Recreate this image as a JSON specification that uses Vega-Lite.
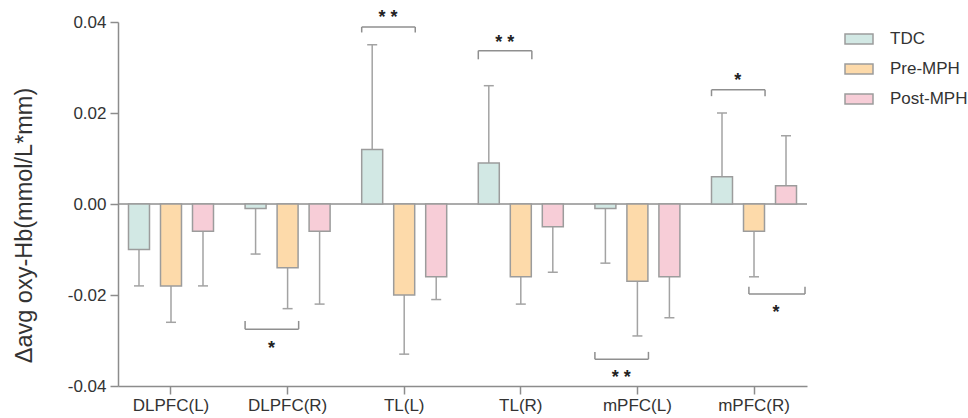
{
  "$schema": "https://vega.github.io/schema/vega-lite/v6.json",
  "width": 689,
  "height": 364,
  "autosize": {"type": "none"},
  "padding": {"left": 118, "top": 22, "right": 161, "bottom": 32},
  "background": "white",
  "config": {
    "view": {"stroke": null},
    "font": "Liberation Sans",
    "axis": {"grid": false, "domainColor": "#8c8c8c", "domainWidth": 1.5, "tickColor": "#8c8c8c", "tickWidth": 1.5, "tickSize": 8, "labelColor": "#333333", "labelFontSize": 17, "labelFont": "Liberation Sans", "titleFont": "Liberation Sans"}
  },
  "datasets": {
    "bars": [
      {"region": "DLPFC(L)", "group": "TDC", "mean": -0.010, "errorEnd": -0.018},
      {"region": "DLPFC(L)", "group": "Pre-MPH", "mean": -0.018, "errorEnd": -0.026},
      {"region": "DLPFC(L)", "group": "Post-MPH", "mean": -0.006, "errorEnd": -0.018},
      {"region": "DLPFC(R)", "group": "TDC", "mean": -0.001, "errorEnd": -0.011},
      {"region": "DLPFC(R)", "group": "Pre-MPH", "mean": -0.014, "errorEnd": -0.023},
      {"region": "DLPFC(R)", "group": "Post-MPH", "mean": -0.006, "errorEnd": -0.022},
      {"region": "TL(L)", "group": "TDC", "mean": 0.012, "errorEnd": 0.035},
      {"region": "TL(L)", "group": "Pre-MPH", "mean": -0.020, "errorEnd": -0.033},
      {"region": "TL(L)", "group": "Post-MPH", "mean": -0.016, "errorEnd": -0.021},
      {"region": "TL(R)", "group": "TDC", "mean": 0.009, "errorEnd": 0.026},
      {"region": "TL(R)", "group": "Pre-MPH", "mean": -0.016, "errorEnd": -0.022},
      {"region": "TL(R)", "group": "Post-MPH", "mean": -0.005, "errorEnd": -0.015},
      {"region": "mPFC(L)", "group": "TDC", "mean": -0.001, "errorEnd": -0.013},
      {"region": "mPFC(L)", "group": "Pre-MPH", "mean": -0.017, "errorEnd": -0.029},
      {"region": "mPFC(L)", "group": "Post-MPH", "mean": -0.016, "errorEnd": -0.025},
      {"region": "mPFC(R)", "group": "TDC", "mean": 0.006, "errorEnd": 0.020},
      {"region": "mPFC(R)", "group": "Pre-MPH", "mean": -0.006, "errorEnd": -0.016},
      {"region": "mPFC(R)", "group": "Post-MPH", "mean": 0.004, "errorEnd": 0.015}
    ],
    "brackets": [
      {"region": "DLPFC(R)", "pair": "TDC vs Pre-MPH", "line": -0.0275, "tip": -0.0257, "label": "*", "labelY": -0.0308},
      {"region": "TL(L)", "pair": "TDC vs Pre-MPH", "line": 0.0389, "tip": 0.0377, "label": "* *", "labelY": 0.0420},
      {"region": "TL(R)", "pair": "TDC vs Pre-MPH", "line": 0.0337, "tip": 0.0318, "label": "* *", "labelY": 0.0365},
      {"region": "mPFC(L)", "pair": "TDC vs Pre-MPH", "line": -0.0341, "tip": -0.0325, "label": "* *", "labelY": -0.0371},
      {"region": "mPFC(R)", "pair": "TDC vs Pre-MPH", "line": 0.0251, "tip": 0.0237, "label": "*", "labelY": 0.0281},
      {"region": "mPFC(R)", "pair": "Pre-MPH vs Post-MPH", "line": -0.0198, "tip": -0.0182, "label": "*", "labelY": -0.0229}
    ],
    "zero": [{"v": 0}]
  },
  "layer": [
    {
      "data": {"name": "bars"},
      "mark": {"type": "bar", "stroke": "#9c9c9c", "strokeWidth": 1.5, "opacity": 0},
      "encoding": {
        "x": {
          "field": "region", "type": "nominal",
          "scale": {"domain": ["DLPFC(L)", "DLPFC(R)", "TL(L)", "TL(R)", "mPFC(L)", "mPFC(R)"], "paddingInner": 0.271, "paddingOuter": 0.09},
          "axis": {"title": null, "labelAngle": 0, "labelPadding": 3}
        },
        "xOffset": {
          "field": "group", "type": "nominal",
          "scale": {"domain": ["TDC", "Pre-MPH", "Post-MPH"], "paddingInner": 0.344, "paddingOuter": 0}
        },
        "y": {
          "field": "mean", "type": "quantitative",
          "scale": {"domain": [-0.04, 0.04], "nice": false, "zero": false},
          "axis": {
            "values": [-0.04, -0.02, 0, 0.02, 0.04],
            "labelExpr": "replace(format(datum.value, '.2f'), '\u2212', '-')",
            "labelPadding": 4,
            "title": "Δavg oxy-Hb(mmol/L*mm)",
            "titleFontSize": 23.5,
            "titleFontWeight": "normal",
            "titleColor": "#333333",
            "titleX": -94,
            "titleY": 203,
            "titleAngle": 270,
            "titleAlign": "center",
            "titleBaseline": "middle"
          }
        }
      }
    },
    {
      "data": {"name": "zero"},
      "mark": {"type": "rule", "color": "#8f8f8f", "strokeWidth": 1.5},
      "encoding": {"y": {"field": "v", "type": "quantitative", "title": "Δavg oxy-Hb(mmol/L*mm)"}}
    },
    {
      "data": {"name": "bars"},
      "mark": {"type": "rule", "color": "#a3a3a3", "strokeWidth": 1.5},
      "encoding": {
        "x": {"field": "region", "type": "nominal", "title": null},
        "xOffset": {"field": "group", "type": "nominal"},
        "y": {"field": "mean", "type": "quantitative", "title": "Δavg oxy-Hb(mmol/L*mm)"},
        "y2": {"field": "errorEnd"}
      }
    },
    {
      "data": {"name": "bars"},
      "mark": {"type": "tick", "orient": "horizontal", "size": 10, "thickness": 1.5, "color": "#a3a3a3", "opacity": 1},
      "encoding": {
        "x": {"field": "region", "type": "nominal", "title": null},
        "xOffset": {"field": "group", "type": "nominal"},
        "y": {"field": "errorEnd", "type": "quantitative", "title": "Δavg oxy-Hb(mmol/L*mm)"}
      }
    },
    {
      "data": {"name": "bars"},
      "mark": {"type": "bar", "stroke": "#9c9c9c", "strokeWidth": 1.5},
      "encoding": {
        "x": {"field": "region", "type": "nominal", "title": null},
        "xOffset": {"field": "group", "type": "nominal"},
        "y": {"field": "mean", "type": "quantitative", "title": "Δavg oxy-Hb(mmol/L*mm)"},
        "fill": {
          "field": "group", "type": "nominal",
          "scale": {"domain": ["TDC", "Pre-MPH", "Post-MPH"], "range": ["#d2e8e4", "#fddaaa", "#f7cdd7"]},
          "legend": {
            "title": null,
            "orient": "none",
            "legendX": 726,
            "legendY": 2,
            "padding": 0,
            "symbolType": "M-1,-0.36H1V0.36H-1Z",
            "symbolSize": 784,
            "symbolStrokeColor": "#9c9c9c",
            "symbolStrokeWidth": 1.5,
            "symbolOpacity": 1,
            "labelFontSize": 17,
            "labelColor": "#333333",
            "labelOffset": 16,
            "rowPadding": 6
          }
        }
      }
    },
    {
      "data": {"name": "brackets"},
      "transform": [{"filter": "datum.pair === 'TDC vs Pre-MPH'"}],
      "mark": {"type": "rule", "color": "#8f8f8f", "strokeWidth": 1.5},
      "encoding": {
        "x": {"field": "region", "type": "nominal", "bandPosition": 0, "title": null},
        "x2": {"field": "region", "bandPosition": 0.63},
        "y": {"field": "line", "type": "quantitative", "title": "Δavg oxy-Hb(mmol/L*mm)"}
      }
    },
    {
      "data": {"name": "brackets"},
      "transform": [{"filter": "datum.pair === 'TDC vs Pre-MPH'"}],
      "mark": {"type": "rule", "color": "#8f8f8f", "strokeWidth": 1.5},
      "encoding": {
        "x": {"field": "region", "type": "nominal", "bandPosition": 0, "title": null},
        "y": {"field": "line", "type": "quantitative", "title": "Δavg oxy-Hb(mmol/L*mm)"},
        "y2": {"field": "tip"}
      }
    },
    {
      "data": {"name": "brackets"},
      "transform": [{"filter": "datum.pair === 'TDC vs Pre-MPH'"}],
      "mark": {"type": "rule", "color": "#8f8f8f", "strokeWidth": 1.5},
      "encoding": {
        "x": {"field": "region", "type": "nominal", "bandPosition": 0.63, "title": null},
        "y": {"field": "line", "type": "quantitative", "title": "Δavg oxy-Hb(mmol/L*mm)"},
        "y2": {"field": "tip"}
      }
    },
    {
      "data": {"name": "brackets"},
      "transform": [{"filter": "datum.pair === 'TDC vs Pre-MPH'"}],
      "mark": {"type": "text", "fontSize": 18, "fontWeight": "bold", "color": "#222222", "baseline": "alphabetic", "dy": 10},
      "encoding": {
        "x": {"field": "region", "type": "nominal", "bandPosition": 0.31, "title": null},
        "y": {"field": "labelY", "type": "quantitative", "title": "Δavg oxy-Hb(mmol/L*mm)"},
        "text": {"field": "label"}
      }
    },
    {
      "data": {"name": "brackets"},
      "transform": [{"filter": "datum.pair === 'Pre-MPH vs Post-MPH'"}],
      "mark": {"type": "rule", "color": "#8f8f8f", "strokeWidth": 1.5},
      "encoding": {
        "x": {"field": "region", "type": "nominal", "bandPosition": 0.44, "title": null},
        "x2": {"field": "region", "bandPosition": 1.1},
        "y": {"field": "line", "type": "quantitative", "title": "Δavg oxy-Hb(mmol/L*mm)"}
      }
    },
    {
      "data": {"name": "brackets"},
      "transform": [{"filter": "datum.pair === 'Pre-MPH vs Post-MPH'"}],
      "mark": {"type": "rule", "color": "#8f8f8f", "strokeWidth": 1.5},
      "encoding": {
        "x": {"field": "region", "type": "nominal", "bandPosition": 0.44, "title": null},
        "y": {"field": "line", "type": "quantitative", "title": "Δavg oxy-Hb(mmol/L*mm)"},
        "y2": {"field": "tip"}
      }
    },
    {
      "data": {"name": "brackets"},
      "transform": [{"filter": "datum.pair === 'Pre-MPH vs Post-MPH'"}],
      "mark": {"type": "rule", "color": "#8f8f8f", "strokeWidth": 1.5},
      "encoding": {
        "x": {"field": "region", "type": "nominal", "bandPosition": 1.1, "title": null},
        "y": {"field": "line", "type": "quantitative", "title": "Δavg oxy-Hb(mmol/L*mm)"},
        "y2": {"field": "tip"}
      }
    },
    {
      "data": {"name": "brackets"},
      "transform": [{"filter": "datum.pair === 'Pre-MPH vs Post-MPH'"}],
      "mark": {"type": "text", "fontSize": 18, "fontWeight": "bold", "color": "#222222", "baseline": "alphabetic", "dy": 10},
      "encoding": {
        "x": {"field": "region", "type": "nominal", "bandPosition": 0.76, "title": null},
        "y": {"field": "labelY", "type": "quantitative", "title": "Δavg oxy-Hb(mmol/L*mm)"},
        "text": {"field": "label"}
      }
    }
  ]
}
